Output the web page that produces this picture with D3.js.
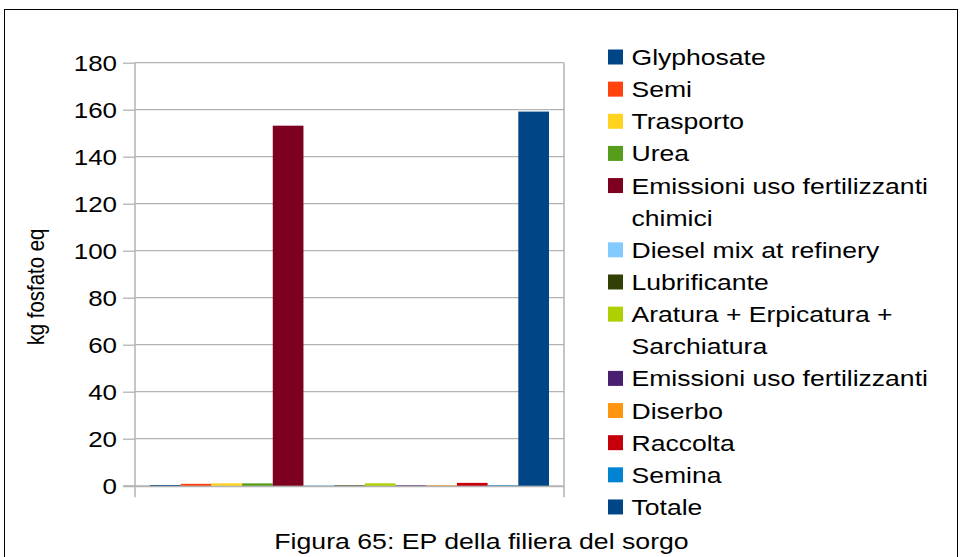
<!DOCTYPE html>
<html>
<head>
<meta charset="utf-8">
<script src="https://cdn.jsdelivr.net/npm/d3@7"></script>
<style>
  html, body { margin: 0; padding: 0; background: #fff; }
  svg { display: block; }
  text { font-family: "Liberation Sans", Arial, sans-serif; fill: #000; }
</style>
</head>
<body>
<svg id="chart" width="962" height="557"></svg>
<script>
// Series names (legend labels, one bar each)
const series = [
  "Glyphosate",
  "Semi",
  "Trasporto",
  "Urea",
  "Emissioni uso fertilizzanti chimici",
  "Diesel mix at refinery",
  "Lubrificante",
  "Aratura + Erpicatura + Sarchiatura",
  "Emissioni uso fertilizzanti",
  "Diserbo",
  "Raccolta",
  "Semina",
  "Totale"
];
// Legend lines for the entries that wrap
const legendLines = [
  ["Glyphosate"],
  ["Semi"],
  ["Trasporto"],
  ["Urea"],
  ["Emissioni uso fertilizzanti", "chimici"],
  ["Diesel mix at refinery"],
  ["Lubrificante"],
  ["Aratura + Erpicatura +", "Sarchiatura"],
  ["Emissioni uso fertilizzanti"],
  ["Diserbo"],
  ["Raccolta"],
  ["Semina"],
  ["Totale"]
];
// kg fosfato eq for each series
const values = [0.3, 0.8, 1.0, 1.0, 153.2, 0.2, 0.2, 1.0, 0.2, 0.2, 1.2, 0.2, 159.2];
const colors = ["#004586", "#ff420e", "#ffd320", "#579d1c", "#7e0021", "#83caff",
                "#314004", "#aecf00", "#4b1f6f", "#ff950e", "#c5000b", "#0084d1", "#004586"];
const yTicks = [0, 20, 40, 60, 80, 100, 120, 140, 160, 180];
const categories = [""];
const yLabel = "kg fosfato eq";
const title = "Figura 65: EP della filiera del sorgo";

const svg = d3.select("#chart");
const SX = 1.18; // horizontal stretch applied to the text
const grid = "#b3b3b3";

// outer frame
svg.append("rect")
  .attr("x", 4.5).attr("y", 9.5).attr("width", 953).attr("height", 560)
  .attr("fill", "none").attr("stroke", "#000").attr("stroke-width", 1);

const plot = { left: 135, right: 564, top: 62.7, bottom: 485.7 };

const y = d3.scaleLinear().domain([0, 180]).range([plot.bottom, plot.top]);
const x0 = d3.scaleBand().domain(categories).range([plot.left, plot.right]).padding(0);
const x1 = d3.scaleBand().domain(series)
  .range([x0(categories[0]) + 15, x0(categories[0]) + x0.bandwidth() - 15]).padding(0);

// horizontal grid lines
svg.append("g").selectAll("line").data(yTicks.filter(d => d > 0)).join("line")
  .attr("x1", plot.left).attr("x2", plot.right)
  .attr("y1", d => y(d)).attr("y2", d => y(d))
  .attr("stroke", grid).attr("stroke-width", 1.3);

// y axis with outward ticks
const yAxis = d3.axisLeft(y).tickValues(yTicks).tickSize(12).tickFormat("");
const ya = svg.append("g").attr("transform", `translate(${plot.left},0)`).call(yAxis);
ya.select(".domain").remove();
ya.selectAll(".tick line").attr("stroke", grid).attr("stroke-width", 1.3);

// tick labels
svg.append("g").selectAll("text").data(yTicks).join("text")
  .attr("transform", d => `translate(117,${y(d) + 8}) scale(${SX},1)`)
  .attr("text-anchor", "end")
  .style("font-size", "22px")
  .text(d => d);

// left and right frame of the plot, extended below as category ticks
[plot.left, plot.right].forEach(xx => {
  svg.append("line")
    .attr("x1", xx).attr("x2", xx).attr("y1", plot.top).attr("y2", plot.bottom + 11.5)
    .attr("stroke", grid).attr("stroke-width", 1.5);
});

// x axis line
svg.append("line")
  .attr("x1", plot.left - 12).attr("x2", plot.right)
  .attr("y1", plot.bottom + 0.5).attr("y2", plot.bottom + 0.5)
  .attr("stroke", grid).attr("stroke-width", 2);

// bars
svg.append("g").selectAll("rect").data(series).join("rect")
  .attr("x", d => x1(d))
  .attr("width", x1.bandwidth())
  .attr("y", (d, i) => y(values[i]))
  .attr("height", (d, i) => y(0) - y(values[i]))
  .attr("fill", (d, i) => colors[i]);

// y axis title
svg.append("text")
  .attr("transform", `translate(44,287) scale(${SX},1) rotate(-90)`)
  .attr("text-anchor", "middle")
  .style("font-size", "20.4px")
  .text(yLabel);

// legend
const lineH = 32.14;
let row = 0;
const lg = svg.append("g");
series.forEach((s, i) => {
  const cy = 57 + row * lineH;
  lg.append("rect")
    .attr("x", 608).attr("y", cy - 7.5).attr("width", 15).attr("height", 15)
    .attr("fill", colors[i]);
  legendLines[i].forEach((t, k) => {
    lg.append("text")
      .attr("transform", `translate(631.5,${cy + 8 + k * lineH}) scale(${SX},1)`)
      .style("font-size", "22.5px")
      .text(t);
  });
  row += legendLines[i].length;
});

// caption
svg.append("text")
  .attr("transform", `translate(481.5,549) scale(${SX},1)`)
  .attr("text-anchor", "middle")
  .style("font-size", "22.6px")
  .text(title);
</script>
</body>
</html>
